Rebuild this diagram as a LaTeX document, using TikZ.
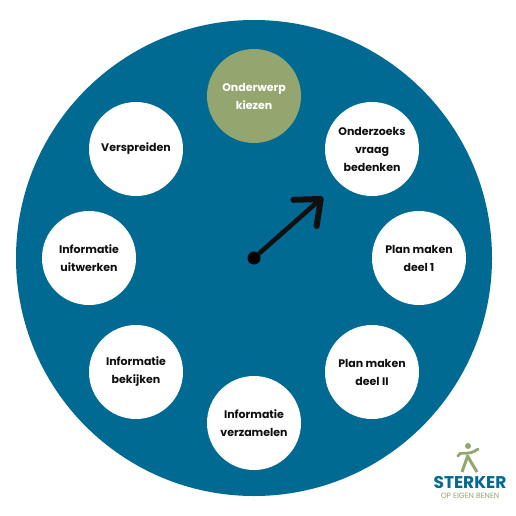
\documentclass[tikz,border=0pt]{standalone}
\usepackage{fontspec}
\setmainfont{Poppins}
\usepackage{xcolor}
\usetikzlibrary{arrows.meta,positioning}
\definecolor{wheel}{RGB}{0,106,147}
\definecolor{sage}{RGB}{148,166,112}
\definecolor{ink}{RGB}{16,16,16}
\tikzset{
  stepnode/.style={circle,fill=white,minimum size=94pt,inner sep=0pt,align=center,
                   text=ink,font=\bfseries\fontsize{11}{18}\selectfont},
  pointer/.style={draw=ink,line width=4.6pt,-{Straight Barb[length=21pt,width=35pt,line width=6pt,round]}},
}
\begin{document}
\begin{tikzpicture}[x=1pt,y=-1pt]
\useasboundingbox (0,0) rectangle (516,516);
\fill[white] (0,0) rectangle (516,516);
\node[circle,fill=wheel,minimum size=476pt,inner sep=0pt] (wheel) at (254,258) {};
% the eight steps
\node[stepnode,fill=sage,text=white] (kiezen) at (254,96) {Onderwerp\\kiezen};
\node[stepnode] (vraag) at (372,149) {Onderzoeks\\vraag\\bedenken};
\node[stepnode] (planI) at (419,258) {Plan maken\\deel 1};
\node[stepnode] (planII) at (372,372) {Plan maken\\deel II};
\node[stepnode] (verzamelen) at (254,423) {Informatie\\verzamelen};
\node[stepnode] (bekijken) at (136,372) {Informatie\\bekijken};
\node[stepnode] (uitwerken) at (89,258) {Informatie\\uitwerken};
\node[stepnode] (verspreiden) at (136,149) {Verspreiden};
% pointer
\node[circle,fill=black,minimum size=13pt,inner sep=0pt] (hub) at (254,258) {};
\coordinate (tip) at (323,197);
\draw[pointer] (hub) -- (tip);
% logo
\node[font=\bfseries\fontsize{17}{17}\selectfont,text=wheel,inner sep=0pt] (sterker) at (470,483) {STERKER};
\node[font=\fontsize{7.6}{7.6}\selectfont,text=sage,inner sep=0pt,below=4pt of sterker] (benen) {OP EIGEN BENEN};
\fill[sage] (468,446) circle (3pt);
\draw[sage,line width=2.8pt,line cap=round] (458,456) .. controls (459,450) and (468,457) .. (478,449);
\draw[sage,line width=3pt] (468,455) -- (462,472);
\draw[sage,line width=3pt] (468,457) -- (477,472);
\end{tikzpicture}
\end{document}
